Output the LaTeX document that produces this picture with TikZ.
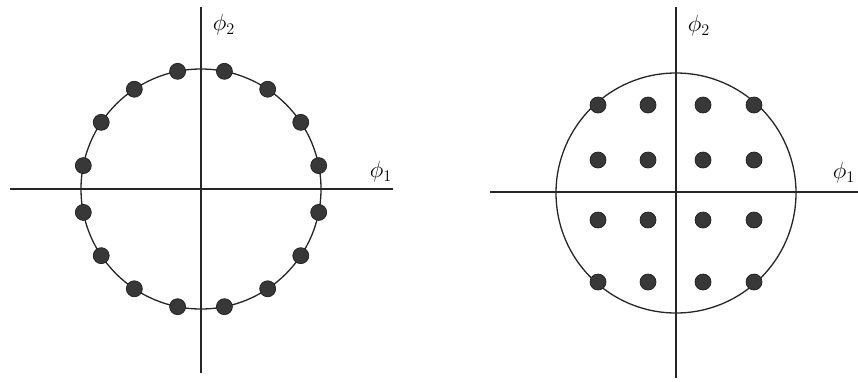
\documentclass[tikz,border=0pt]{standalone}
\usepackage{graphicx}
\usetikzlibrary{calc}
\newcommand{\biglbl}[1]{\scalebox{1.35}{\LARGE$#1$}}
\begin{document}
\begin{tikzpicture}[x=1pt,y=-1pt,
  axis/.style={line width=1.4pt,black!85},
  ring/.style={line width=1.3pt,black!85},
  pt/.style={circle,fill=black!78,draw=black!88,line width=0.7pt,inner sep=0pt,minimum size=16pt},
  lbl/.style={inner sep=0pt}]
\useasboundingbox (0,0) rectangle (858,381);
% left diagram
\coordinate (Lc) at (201,189);
\coordinate (Lt) at (201,7);
\coordinate (Lb) at (201,373);
\coordinate (Ll) at (10,189);
\coordinate (Lr) at (393,189);
\draw[axis] (Lt) -- (Lb);
\draw[axis] (Ll) -- (Lr);
\node[ring,draw,circle,minimum size=240pt,inner sep=0pt] (Lring) at (Lc) {};
\foreach \k in {0,...,15}{
  \node[pt] (L\k) at ($(Lc)+({11.25+22.5*\k}:120)$) {};
}
\node[lbl] (Lphi2) at (224,25) {\biglbl{\phi_2}};
\node[lbl] (Lphi1) at (381,172) {\biglbl{\phi_1}};
% right diagram
\coordinate (Rc) at (676,193);
\coordinate (Rt) at (676,7);
\coordinate (Rb) at (676,378);
\coordinate (Rl) at (490,192);
\coordinate (Rr) at (858,192);
\draw[axis] (Rt) -- (Rb);
\draw[axis] (Rl) -- (Rr);
\node[ring,draw,circle,minimum size=240pt,inner sep=0pt] (Rring) at (Rc) {};
\foreach \x [count=\i] in {598,648,703,754}{
  \foreach \y [count=\j] in {105,160,220,282}{
    \node[pt] (R\i\j) at (\x,\y) {};
  }
}
\node[lbl] (Rphi2) at (699,26) {\biglbl{\phi_2}};
\node[lbl] (Rphi1) at (844,173) {\biglbl{\phi_1}};
\end{tikzpicture}
\end{document}
